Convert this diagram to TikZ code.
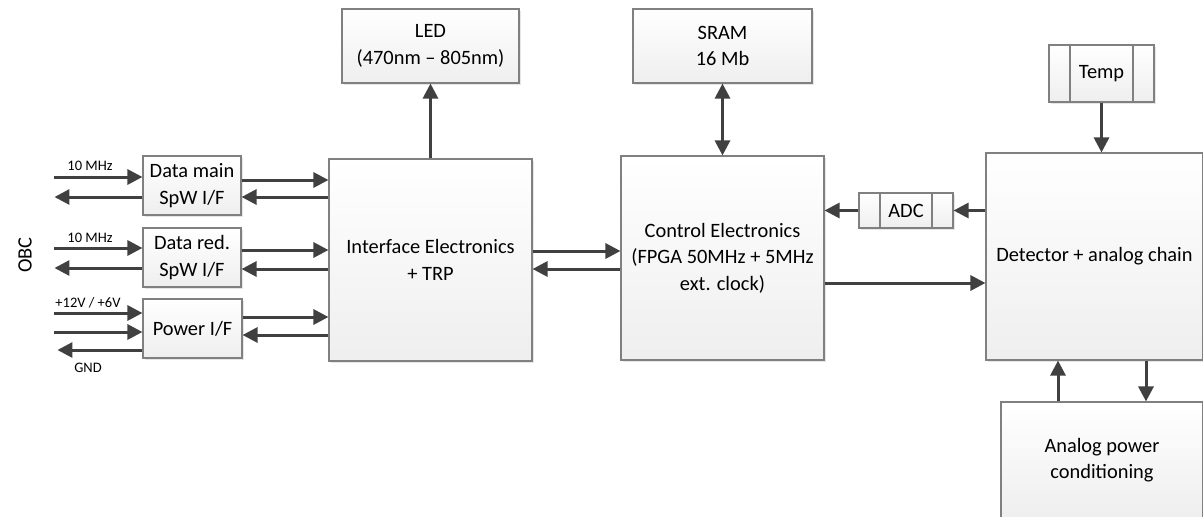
\documentclass[tikz,border=0pt]{standalone}
\usepackage{fontspec}
\setmainfont{Carlito}
\usetikzlibrary{arrows.meta, shadows}
\definecolor{wiregray}{RGB}{64, 64, 64}
\definecolor{edgegray}{RGB}{128, 128, 128}

\begin{document}
\begin{tikzpicture}[x=1pt, y=-1pt,
  >={Triangle[length=15pt, width=15pt]},
  block/.style={draw=edgegray, line width=1.1pt, top color=white, bottom color=gray!13,
    align=center, inner sep=2pt, font=\fontsize{20.4}{26.5}\selectfont,
    drop shadow={shadow xshift=2pt, shadow yshift=-2pt, fill=gray, opacity=0.2}},
  regbox/.style={block, path picture={
    \draw[edgegray, line width=1.1pt]
      ([xshift=21pt]path picture bounding box.north west) -- ([xshift=21pt]path picture bounding box.south west)
      ([xshift=-21pt]path picture bounding box.north east) -- ([xshift=-21pt]path picture bounding box.south east);}},
  wire/.style={draw=wiregray, line width=3pt},
  tag/.style={font=\fontsize{14.5}{17}\selectfont, inner sep=0pt}
]
  \useasboundingbox (0,0) rectangle (1203,517);

  % OBC side interfaces
  \node[block, minimum width=98pt, minimum height=59pt] (dmain) at (192,185.5) {Data main\\SpW I/F};
  \node[block, minimum width=98pt, minimum height=59pt] (dred) at (192,257.5) {Data red.\\SpW I/F};
  \node[block, minimum width=99pt, minimum height=59pt] (power) at (192.5,328.5) {Power I/F};

  \node[font=\fontsize{20.4}{24}\selectfont, rotate=90] (obc) at (25,255) {OBC};
  \node[tag] (clkmain) at (90,166) {10 MHz};
  \node[tag] (clkred) at (90,238) {10 MHz};
  \node[tag] (supply) at (88,303) {+12V / +6V};
  \node[tag] (gnd) at (88,368) {GND};

  % main blocks
  \node[block, minimum width=203pt, minimum height=202pt] (iface) at (430.5,260) {Interface Electronics\\+ TRP};
  \node[block, minimum width=177pt, minimum height=74pt] (led) at (430.5,46) {LED\\(470nm -- 805nm)};
  \node[block, minimum width=179pt, minimum height=74pt] (sram) at (722.5,46) {SRAM\\16 Mb};
  \node[block, minimum width=203pt, minimum height=204pt] (ctrl) at (722.5,258) {Control Electronics\\(FPGA 50MHz + 5MHz\\ext. clock)};
  \node[regbox, minimum width=94pt, minimum height=35pt] (adc) at (906,210.5) {ADC};
  \node[block, minimum width=217pt, minimum height=207pt] (det) at (1094.5,256.5) {Detector + analog chain};
  \node[regbox, minimum width=105pt, minimum height=57pt] (temp) at (1101.5,73.5) {Temp};
  \node[block, minimum width=202pt, minimum height=116pt] (apc) at (1102,460) {Analog power\\conditioning};

  % OBC links
  \draw[wire, <-] (dmain.west |- 0,177) -- ++(-88,0);
  \draw[wire, ->] (dmain.west |- 0,197) -- ++(-88,0);
  \draw[wire, <-] (dred.west |- 0,248) -- ++(-88,0);
  \draw[wire, ->] (dred.west |- 0,268) -- ++(-88,0);
  \draw[wire, <-] (power.west |- 0,313) -- ++(-88,0);
  \draw[wire, <-] (power.west |- 0,332) -- ++(-88,0);
  \draw[wire, ->] (power.west |- 0,350) -- ++(-85,0);

  % interfaces to interface electronics
  \draw[wire, ->] (dmain.east |- 0,180) -- (iface.west |- 0,180);
  \draw[wire, <-] (dmain.east |- 0,197) -- (iface.west |- 0,197);
  \draw[wire, ->] (dred.east |- 0,250) -- (iface.west |- 0,250);
  \draw[wire, <-] (dred.east |- 0,269) -- (iface.west |- 0,269);
  \draw[wire, ->] (power.east |- 0,317) -- (iface.west |- 0,317);
  \draw[wire, <-] (power.east |- 0,335) -- (iface.west |- 0,335);

  \draw[wire, ->] (iface.north) -- (led.south);
  \draw[wire, ->] (iface.east |- 0,251) -- (ctrl.west |- 0,251);
  \draw[wire, <-] (iface.east |- 0,269) -- (ctrl.west |- 0,269);
  \draw[wire, <->] (sram.south) -- (ctrl.north);

  % detector side
  \draw[wire, ->] (det.west |- adc) -- (adc.east);
  \draw[wire, ->] (adc.west) -- (ctrl.east |- adc);
  \draw[wire, ->] (ctrl.east |- 0,283) -- (det.west |- 0,283);
  \draw[wire, ->] (temp.south) -- (temp.south |- det.north);
  \draw[wire, ->] (apc.north -| 1058,0) -- (det.south -| 1058,0);
  \draw[wire, ->] (det.south -| 1146,0) -- (apc.north -| 1146,0);
\end{tikzpicture}
\end{document}
